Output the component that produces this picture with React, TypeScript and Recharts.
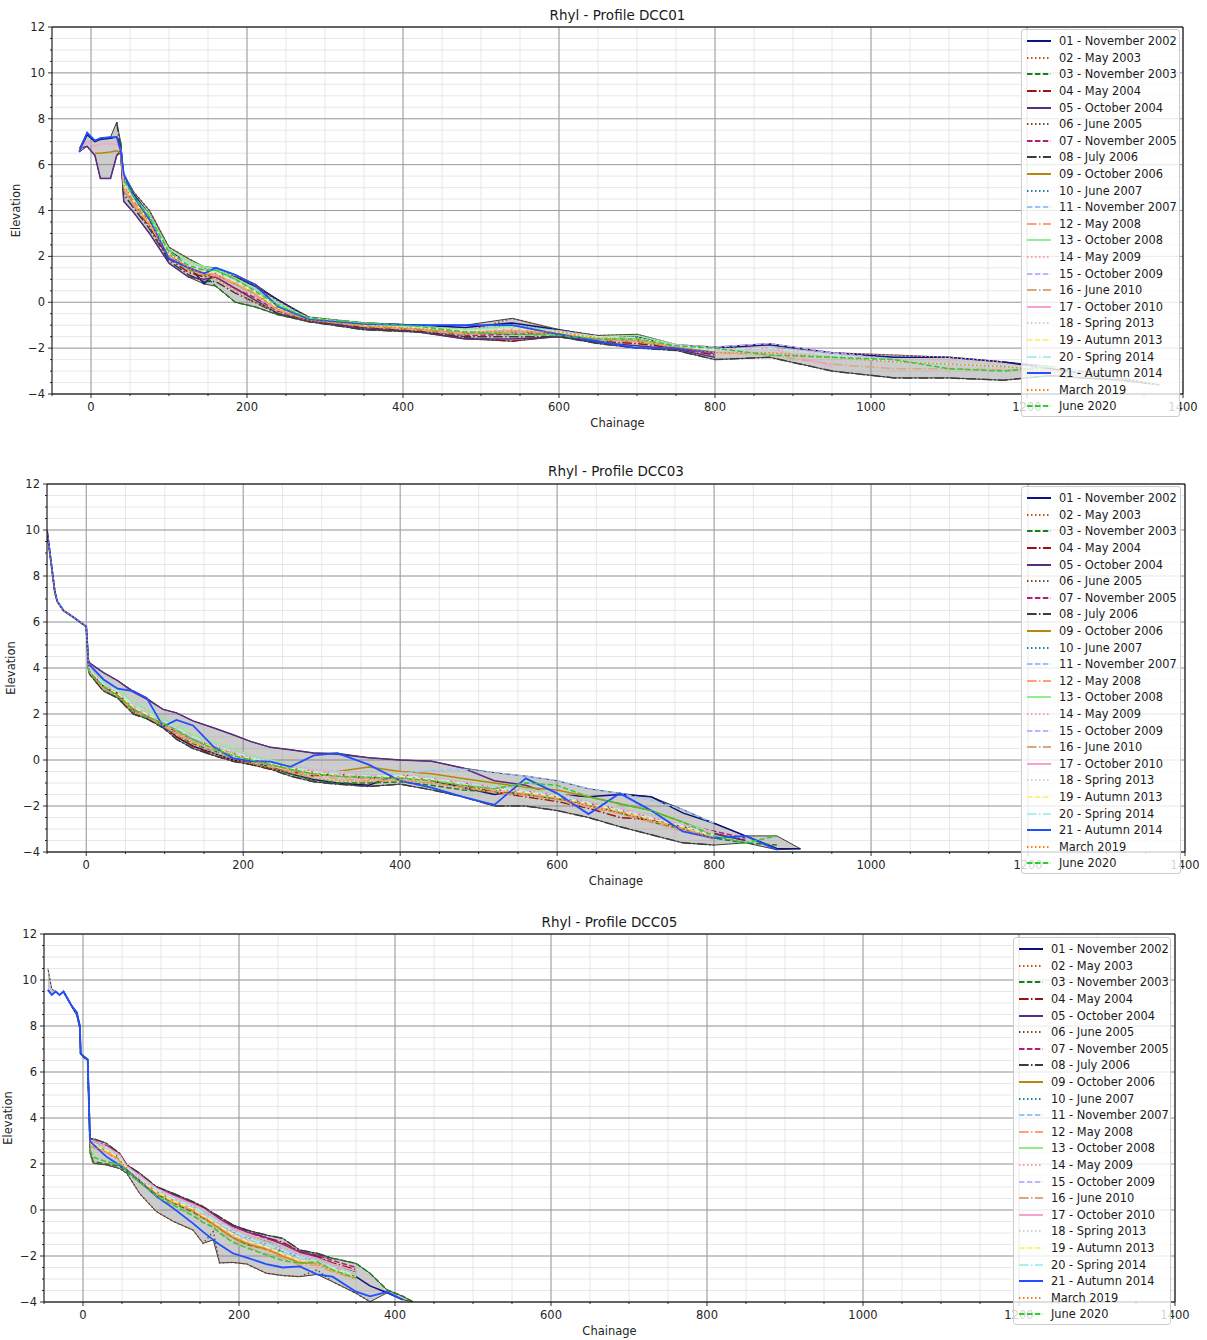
import React from 'react';
import {
  ComposedChart,
  Line,
  Area,
  XAxis,
  YAxis,
  CartesianGrid,
  ReferenceLine,
  Legend,
} from 'recharts';

const _ = null;
type Row = (number | null)[];

const surveys = [
  '01 - November 2002',
  '02 - May 2003',
  '03 - November 2003',
  '04 - May 2004',
  '05 - October 2004',
  '06 - June 2005',
  '07 - November 2005',
  '08 - July 2006',
  '09 - October 2006',
  '10 - June 2007',
  '11 - November 2007',
  '12 - May 2008',
  '13 - October 2008',
  '14 - May 2009',
  '15 - October 2009',
  '16 - June 2010',
  '17 - October 2010',
  '18 - Spring 2013',
  '19 - Autumn 2013',
  '20 - Spring 2014',
  '21 - Autumn 2014',
  'March 2019',
  'June 2020',
];

const surveyColours = [
  '#10107e', '#c8501e', '#1a7f1a', '#9b1010', '#5a2d82', '#7a4a2a', '#b0207a', '#3c3c3c',
  '#b8860b', '#207f9f', '#9ac4f8', '#ffa07a', '#90ee90', '#f4a0a0', '#c4b0ff', '#d8a883',
  '#f8a0d0', '#cfcfcf', '#fff27a', '#aeeeee', '#1f4fff', '#ff7f0e', '#2ecc2e',
];

const surveyStyles = [
  'solid', 'dotted', 'dashed', 'dashdot', 'solid', 'dotted', 'dashed', 'dashdot',
  'solid', 'dotted', 'dashed', 'dashdot', 'solid', 'dotted', 'dashed', 'dashdot',
  'solid', 'dotted', 'dashed', 'dashdot', 'solid', 'dotted', 'dashed',
];

const dashes: Record<string, string | undefined> = {
  solid: undefined,
  dotted: '1.5 2.5',
  dashed: '5.5 2.4',
  dashdot: '9.6 2.4 1.5 2.4',
};

const xMajor = [0, 200, 400, 600, 800, 1000, 1200, 1400];
const yMajor = [-4, -2, 0, 2, 4, 6, 8, 10, 12];
const xTicks = Array.from({ length: 30 }, (v, i) => -50 + i * 50);
const yTicks = Array.from({ length: 33 }, (v, i) => -4 + i * 0.5);

// ---- DCC01 ----
const dcc01Chainage = [
  -15, -5, 5, 12, 25, 33, 38, 42, 55, 75, 100, 125, 145, 160, 185, 210, 240, 280, 350, 420,
  480, 540, 600, 650, 700, 750, 800, 870, 950, 1030, 1100, 1170, 1230, 1270, 1320, 1370,
];
const dcc01Elevation: Row[] = [
  [6.6, 7.3, 7.0, 7.1, 7.15, 7.2, 6.9, 5.3, 4.7, 3.8, 2.3, 1.6, 0.8, 1.3, 1.1, 0.7, 0.1, -0.7, -0.9, -1.0, -1.1, -0.9, -1.2, -1.5, -1.5, -1.9, -2.0, -1.85, -2.2, -2.4, -2.4, -2.6, -2.9, -3.1, _, _],
  [_, _, _, _, _, _, _, 5.0, 4.3, 3.5, 2.1, 1.5, 1.3, 1.3, 0.9, 0.4, -0.3, -0.75, -1.0, -1.15, -1.3, -1.2, -1.3, -1.6, -1.7, -1.95, -2.2, _, _, _, _, _, _, _, _, _],
  [_, _, _, _, _, _, 7.0, 5.0, 4.3, 3.4, 2.0, 1.4, 1.2, 0.7, 0.0, -0.2, -0.55, -0.85, -1.1, -1.2, -1.35, -1.2, -1.35, -1.6, -1.7, -1.95, -2.2, _, _, _, _, _, _, _, _, _],
  [_, _, _, _, _, _, _, 4.9, 4.2, 3.3, 1.9, 1.3, 1.1, 1.2, 1.1, 0.8, -0.2, -0.8, -1.1, -1.25, -1.55, -1.7, -1.45, -1.7, -1.8, -2.0, -2.3, _, _, _, _, _, _, _, _, _],
  [6.7, 6.8, 6.4, 5.4, 5.4, 6.4, 6.6, 4.4, 3.9, 3.0, 1.7, 1.1, 1.0, 1.1, 0.6, 0.1, -0.5, -0.8, -1.15, -1.3, -1.6, -1.6, -1.5, -1.75, -1.9, -2.05, -2.4, _, _, _, _, _, _, _, _, _],
  [_, _, _, _, _, _, _, 5.4, 4.8, 4.0, 2.4, 1.9, 1.5, 1.5, 1.1, 0.7, 0.05, -0.65, -0.9, -1.05, -1.3, -0.7, -1.2, -1.45, -1.4, -1.85, -2.0, _, _, _, _, _, _, _, _, _],
  [_, _, _, _, _, _, _, 5.1, 4.4, 3.5, 2.1, 1.5, 1.2, 1.1, 0.6, 0.2, -0.4, -0.8, -1.05, -1.2, -1.45, -1.4, -1.35, -1.6, -1.65, -2.0, -2.25, _, _, _, _, _, _, _, _, _],
  [_, _, _, _, _, 7.85, 6.6, 4.7, 4.1, 3.2, 1.8, 1.2, 0.9, 0.9, 0.4, 0.0, -0.5, -0.85, -1.2, -1.3, -1.5, -1.5, -1.5, -1.8, -2.0, -2.1, -2.5, -2.4, -3.0, -3.3, -3.3, -3.4, -3.2, -3.3, -3.4, -3.6],
  [_, _, 6.5, 6.5, 6.55, 6.6, 6.5, 5.0, 4.4, 3.4, 2.0, 1.4, 1.2, 1.2, 0.8, 0.4, -0.3, -0.75, -1.05, -1.2, -1.4, -1.3, -1.35, -1.6, -1.7, -1.95, -2.2, _, _, _, _, _, _, _, _, _],
  [_, _, _, _, _, _, _, 5.3, 4.6, 3.7, 2.2, 1.6, 1.4, 1.4, 1.0, 0.6, -0.1, -0.7, -0.95, -1.1, -1.25, -1.0, -1.25, -1.5, -1.5, -1.9, -2.1, _, _, _, _, _, _, _, _, _],
  [_, _, _, _, _, _, _, 5.2, 4.5, 3.6, 2.1, 1.6, 1.4, 1.3, 0.9, 0.5, -0.2, -0.7, -1.0, -1.1, -1.3, -1.2, -1.3, -1.55, -1.6, -1.9, -2.15, _, _, _, _, _, _, _, _, _],
  [_, _, _, _, _, _, _, 5.0, 4.3, 3.4, 2.0, 1.5, 1.3, 1.2, 0.8, 0.4, -0.3, -0.75, -1.0, -1.15, -1.35, -1.25, -1.3, -1.6, -1.65, -1.95, -2.2, _, _, _, _, _, _, _, _, _],
  [_, _, _, _, _, _, _, 5.3, 4.6, 3.8, 2.3, 1.8, 1.55, 1.45, 1.05, 0.6, -0.05, -0.7, -0.9, -1.05, -1.2, -1.05, -1.25, -1.5, -1.45, -1.85, -2.05, _, _, _, _, _, _, _, _, _],
  [_, _, _, _, _, _, _, 5.1, 4.4, 3.5, 2.1, 1.5, 1.3, 1.25, 0.85, 0.45, -0.2, -0.7, -0.95, -1.1, -1.25, -1.15, -1.3, -1.55, -1.55, -1.9, -2.0, -2.0, -2.2, -2.3, -2.4, -2.6, _, _, _, _],
  [_, _, _, _, _, _, _, 5.2, 4.5, 3.6, 2.2, 1.6, 1.4, 1.35, 0.95, 0.55, -0.15, -0.7, -0.95, -1.1, -1.3, -1.2, -1.25, -1.5, -1.6, -1.85, -1.95, -1.8, -2.2, -2.5, _, _, _, _, _, _],
  [_, _, _, _, _, _, _, 4.9, 4.2, 3.4, 2.0, 1.4, 1.2, 1.15, 0.75, 0.3, -0.35, -0.75, -1.05, -1.2, -1.4, -1.3, -1.35, -1.65, -1.7, -1.95, -2.2, -2.3, -2.7, -2.9, -2.9, -2.95, -3.0, _, _, _],
  [6.65, 7.0, 6.8, 6.9, 6.9, 6.9, 6.7, 5.1, 4.5, 3.6, 2.2, 1.6, 1.35, 1.3, 0.9, 0.5, -0.2, -0.7, -0.95, -1.1, -1.25, -1.15, -1.3, -1.55, -1.6, -1.9, -2.05, -2.0, -2.8, _, _, _, _, _, _, _],
  [_, _, _, _, _, _, _, 5.2, 4.5, 3.6, 2.2, 1.6, 1.4, 1.3, 0.9, 0.5, -0.2, -0.7, -0.95, -1.1, -1.3, -1.25, -1.3, -1.55, -1.6, -1.9, -2.1, -2.1, -2.4, -2.6, -2.7, -2.8, -2.95, -3.1, -3.3, -3.6],
  [_, _, _, _, _, _, _, 5.1, 4.4, 3.5, 2.1, 1.6, 1.35, 1.3, 0.9, 0.45, -0.25, -0.7, -1.0, -1.1, -1.25, -1.15, -1.3, -1.55, -1.6, -1.9, -2.1, _, _, _, _, _, _, _, _, _],
  [_, _, _, _, _, _, _, 5.2, 4.5, 3.7, 2.2, 1.65, 1.4, 1.35, 0.95, 0.5, -0.15, -0.7, -0.95, -1.1, -1.25, -1.1, -1.3, -1.5, -1.55, -1.9, -2.05, -2.0, -2.3, -2.6, -2.7, -2.8, -2.8, -3.0, _, _],
  [6.55, 7.4, 7.05, 7.15, 7.2, 7.2, 6.6, 5.6, 4.6, 3.6, 1.9, 1.5, 1.25, 1.5, 1.2, 0.75, -0.2, -0.75, -0.95, -1.0, -1.0, -1.0, -1.4, -1.7, -2.0, -2.0, -2.2, _, _, _, _, _, _, _, _, _],
  [_, _, _, _, _, _, _, 5.1, 4.4, 3.5, 2.1, 1.5, 1.2, 1.0, 0.5, 0.0, -0.4, -0.8, -1.0, -1.15, -1.3, -1.25, -1.3, -1.55, -1.6, -1.95, -2.2, -2.2, -2.4, -2.6, -2.7, -2.8, -3.0, -3.1, _, _],
  [_, _, _, _, _, _, _, 5.3, 4.6, 3.7, 2.2, 1.6, 1.4, 1.4, 1.0, 0.5, -0.15, -0.7, -0.9, -1.05, -1.3, -1.4, -1.45, -1.6, -1.6, -1.9, -2.0, -2.3, -2.4, -2.5, -2.9, -3.0, -2.8, _, _, _],
];

// ---- DCC03 ----
const dcc03Chainage = [
  -50, -40, -37, -29, -16, 0, 3, 5, 22, 40, 60, 77, 98, 115, 136, 162, 187, 210, 235, 260,
  290, 320, 360, 400, 440, 480, 520, 560, 600, 640, 680, 720, 760, 800, 840, 880, 910,
];
const dcc03Elevation: Row[] = [
  [10.0, 7.3, 6.9, 6.5, 6.2, 5.8, 4.2, 3.9, 3.2, 2.8, 2.1, 1.9, 1.5, 1.0, 0.6, 0.3, 0.0, -0.1, -0.3, -0.6, -0.85, -1.0, -1.1, -0.6, -0.9, -1.2, -1.5, -1.3, -1.5, -1.6, -1.5, -1.6, -2.3, -2.75, -3.3, -3.85, -3.86],
  [_, _, _, _, _, _, 4.0, 3.8, 3.2, 2.9, 2.3, 2.0, 1.6, 1.3, 0.9, 0.6, 0.3, 0.1, -0.1, -0.3, -0.55, -0.7, -0.8, -0.75, -0.9, -1.1, -1.3, -1.35, -1.6, -1.9, -2.2, -2.5, -2.9, -3.3, _, _, _],
  [10.0, 7.3, 6.9, 6.5, 6.2, 5.8, 3.8, 3.7, 3.0, 2.7, 2.0, 1.8, 1.4, 1.1, 0.7, 0.4, 0.1, -0.1, -0.35, -0.6, -0.9, -1.0, -1.0, -0.95, -1.1, -1.3, -1.4, -1.5, -1.7, -1.9, -2.3, -2.7, -3.0, -3.4, -3.6, -3.7, _],
  [_, _, _, _, _, _, 4.1, 3.9, 3.3, 2.9, 2.2, 1.9, 1.5, 1.0, 0.6, 0.2, -0.05, -0.2, -0.4, -0.5, -0.7, -0.6, -0.8, -0.6, -0.9, -1.1, -1.4, -1.6, -1.8, -2.1, -2.5, -2.6, -2.9, -3.2, -3.5, _, _],
  [_, _, _, _, _, _, 4.3, 4.2, 3.8, 3.45, 2.95, 2.65, 2.2, 2.05, 1.7, 1.4, 1.1, 0.8, 0.55, 0.45, 0.3, 0.25, 0.1, 0.0, -0.05, -0.35, -0.9, -1.1, -1.6, -1.9, -2.1, -2.4, -2.8, -3.2, -3.5, _, _],
  [_, _, _, _, _, _, 4.0, 3.8, 3.1, 2.8, 2.1, 1.9, 1.4, 1.2, 0.8, 0.5, 0.2, 0.0, -0.2, -0.4, -0.6, -0.7, -0.8, -0.8, -0.7, -1.0, -1.3, -1.4, -1.6, -2.0, -2.3, -2.6, -3.0, -3.4, _, _, _],
  [_, _, _, _, _, _, 3.9, 3.8, 3.1, 2.8, 2.2, 1.9, 1.6, 1.2, 0.9, 0.5, 0.3, 0.1, -0.1, -0.3, -0.5, -0.6, -0.7, -0.7, -0.8, -1.0, -1.2, -1.3, -1.5, -1.8, -2.2, -2.5, -2.8, -3.1, -3.4, _, _],
  [_, _, _, _, _, _, 4.0, 3.7, 3.0, 2.7, 2.0, 1.8, 1.4, 0.9, 0.5, 0.2, -0.05, -0.2, -0.4, -0.7, -0.95, -1.05, -1.15, -1.05, -1.3, -1.6, -2.0, -2.0, -2.2, -2.5, -2.9, -3.25, -3.6, -3.7, _, _, _],
  [_, _, _, _, _, _, 4.1, 3.9, 3.3, 3.0, 2.4, 2.1, 1.7, 1.4, 1.0, 0.6, 0.3, 0.0, -0.2, -0.4, -0.6, -0.5, -0.3, -0.5, -0.6, -0.8, -1.0, -1.2, -1.3, -1.6, -1.9, -2.2, -2.7, -3.2, _, _, _],
  [_, _, _, _, _, _, 4.0, 3.9, 3.2, 2.9, 2.3, 2.0, 1.6, 1.3, 0.9, 0.6, 0.3, 0.05, -0.15, -0.35, -0.55, -0.65, -0.75, -0.7, -0.85, -1.05, -1.25, -1.4, -1.6, -1.9, -2.2, -2.6, -2.9, -3.3, _, _, _],
  [_, _, _, _, _, _, 4.1, 4.0, 3.3, 3.0, 2.4, 2.1, 1.7, 1.4, 1.0, 0.7, 0.4, 0.15, -0.05, -0.25, -0.45, -0.55, -0.65, -0.6, -0.45, -0.4, -0.55, -0.7, -0.9, -1.25, -1.45, -1.75, -2.15, -2.75, _, _, _],
  [_, _, _, _, _, _, 4.0, 3.8, 3.1, 2.8, 2.2, 1.9, 1.5, 1.2, 0.8, 0.5, 0.2, 0.0, -0.2, -0.4, -0.6, -0.7, -0.8, -0.75, -0.9, -1.1, -1.3, -1.45, -1.65, -1.95, -2.25, -2.6, -3.0, -3.35, _, _, _],
  [_, _, _, _, _, _, 4.2, 4.0, 3.4, 3.1, 2.5, 2.2, 1.8, 1.5, 1.1, 0.8, 0.5, 0.2, 0.0, -0.2, -0.4, -0.5, -0.6, -0.55, -0.7, -0.9, -1.1, -1.25, -1.45, -1.75, -2.05, -2.4, -2.75, -3.15, _, _, _],
  [_, _, _, _, _, _, 4.0, 3.9, 3.2, 2.9, 2.3, 2.0, 1.6, 1.3, 0.95, 0.6, 0.3, 0.1, -0.1, -0.3, -0.5, -0.6, -0.7, -0.65, -0.8, -1.0, -1.2, -1.35, -1.55, -1.85, -2.15, -2.5, -2.85, -3.25, _, _, _],
  [_, _, _, _, _, _, 4.1, 3.9, 3.3, 3.0, 2.3, 2.0, 1.7, 1.35, 1.0, 0.65, 0.35, 0.1, -0.05, -0.25, -0.4, -0.5, -0.65, -0.7, -0.85, -1.05, -1.25, -1.4, -1.5, -1.8, -2.1, -2.45, -2.8, -3.2, _, _, _],
  [_, _, _, _, _, _, 3.9, 3.8, 3.1, 2.8, 2.1, 1.9, 1.5, 1.1, 0.8, 0.4, 0.1, -0.1, -0.3, -0.5, -0.7, -0.8, -0.9, -0.85, -1.0, -1.2, -1.4, -1.55, -1.75, -2.05, -2.35, -2.7, -3.1, -3.45, _, _, _],
  [_, _, _, _, _, _, 4.1, 4.0, 3.3, 3.0, 2.4, 2.1, 1.7, 1.4, 1.0, 0.7, 0.4, 0.15, -0.05, -0.25, -0.45, -0.55, -0.65, -0.6, -0.75, -0.95, -1.15, -1.3, -1.5, -1.8, -2.1, -2.45, -2.8, -3.2, _, _, _],
  [10.0, 7.4, 6.9, 6.5, 6.2, 5.8, 4.1, 3.9, 3.3, 3.0, 2.4, 2.1, 1.7, 1.4, 1.0, 0.7, 0.4, 0.15, -0.05, -0.25, -0.4, -0.5, -0.6, -0.55, -0.7, -0.9, -1.1, -1.3, -1.45, -1.75, -2.05, -2.4, -2.75, -3.15, _, _, _],
  [_, _, _, _, _, _, 4.0, 3.9, 3.2, 2.9, 2.3, 2.0, 1.6, 1.3, 0.9, 0.55, 0.25, 0.05, -0.15, -0.35, -0.55, -0.65, -0.75, -0.7, -0.85, -1.05, -1.25, -1.4, -1.6, -1.9, -2.2, -2.55, -2.9, -3.3, _, _, _],
  [_, _, _, _, _, _, 4.1, 3.9, 3.3, 3.0, 2.4, 2.1, 1.7, 1.4, 1.0, 0.65, 0.35, 0.1, -0.1, -0.3, -0.5, -0.6, -0.7, -0.65, -0.8, -1.0, -1.2, -1.35, -1.55, -1.85, -2.15, -2.5, -2.85, -3.25, _, _, _],
  [10.0, 7.3, 6.9, 6.5, 6.2, 5.8, 4.1, 4.1, 3.5, 3.1, 3.0, 2.7, 1.45, 1.74, 1.5, 0.58, 0.07, -0.05, -0.07, -0.3, 0.2, 0.3, -0.2, -0.9, -1.2, -1.6, -1.95, -0.8, -1.45, -2.35, -1.45, -2.2, -3.1, -3.4, -3.3, -3.9, _],
  [10.0, 7.3, 6.9, 6.5, 6.2, 5.8, 4.0, 3.8, 3.1, 2.8, 2.1, 1.9, 1.5, 1.1, 0.7, 0.3, 0.0, -0.15, -0.35, -0.55, -0.8, -0.9, -0.95, -0.9, -1.0, -1.2, -1.4, -1.5, -1.7, -2.0, -2.3, -2.7, -3.0, -3.4, _, _, _],
  [_, _, _, _, _, _, 4.0, 3.8, 3.2, 2.8, 2.2, 1.9, 1.6, 1.3, 0.9, 0.5, 0.2, 0.0, -0.2, -0.4, -0.6, -0.7, -0.75, -0.8, -0.9, -1.1, -1.25, -1.0, -1.1, -1.6, -1.9, -2.2, -2.7, -3.3, -3.6, -3.3, _],
];

// ---- DCC05 ----
const dcc05Chainage = [
  -45, -40, -35, -30, -25, -15, -8, -4, -3, 2, 6, 9, 13, 30, 47, 56, 73, 94, 116, 141,
  154, 167, 175, 192, 210, 235, 256, 278, 300, 320, 350, 368, 390, 410, 423,
];
const dcc05Elevation: Row[] = [
  [_, _, _, _, 9.5, 8.9, 8.5, 8.0, 6.8, 6.65, 6.55, 3.1, 3.0, 2.7, 2.3, 1.9, 1.5, 0.95, 0.6, 0.2, 0.0, -0.3, -0.45, -0.8, -1.1, -1.4, -1.6, -1.9, -2.1, -2.4, -2.9, -3.3, -3.6, -3.9, _],
  [_, _, _, _, 9.5, 8.9, 8.55, 8.0, 6.8, 6.65, 6.55, 3.0, 2.9, 2.7, 2.3, 1.9, 1.5, 0.9, 0.55, 0.2, 0.0, -0.25, -0.45, -0.85, -1.15, -1.35, -1.55, -1.95, -2.2, -2.5, -2.85, _, _, _, _],
  [_, _, _, _, 9.5, 8.9, 8.55, 8.0, 6.8, 6.65, 6.55, 2.6, 2.1, 2.0, 1.9, 1.65, 1.2, 0.7, 0.3, -0.1, -0.35, -0.6, -0.8, -1.2, -1.5, -1.7, -1.8, -1.9, -1.95, -2.1, -2.32, -2.75, -3.48, -3.75, -3.99],
  [_, _, _, _, _, _, _, _, _, _, _, 3.1, 3.0, 2.8, 2.4, 1.95, 1.55, 1.0, 0.7, 0.3, 0.1, -0.15, -0.3, -0.65, -0.9, -1.2, -1.4, -1.8, -2.0, -2.3, -2.6, _, _, _, _],
  [_, _, _, _, _, _, _, _, _, _, _, 3.0, 2.95, 2.75, 2.4, 1.9, 1.5, 0.95, 0.65, 0.3, 0.05, -0.2, -0.4, -0.7, -0.95, -1.2, -1.5, -1.85, -2.05, -2.35, -2.7, _, _, _, _],
  [_, _, _, _, _, _, _, _, _, _, _, 2.5, 2.03, 1.96, 1.8, 1.6, 0.7, -0.07, -0.5, -0.87, -1.45, -0.94, -2.3, -2.28, -2.35, -2.75, -2.85, -2.9, -2.6, -3.12, -3.62, -3.99, _, _, _],
  [_, _, _, _, _, _, _, _, _, _, _, 3.0, 2.95, 2.8, 2.45, 1.95, 1.55, 1.0, 0.7, 0.3, 0.1, -0.15, -0.35, -0.7, -0.95, -1.25, -1.45, -1.8, -1.95, -2.2, -2.5, _, _, _, _],
  [_, _, _, _, 9.5, 8.9, 8.5, 7.9, 6.8, 6.6, 6.5, 3.1, 3.1, 2.9, 2.46, 1.96, 1.6, 1.01, 0.72, 0.36, 0.15, -0.14, -0.3, -0.65, -0.87, -1.09, -1.23, -1.74, -1.88, -2.1, _, _, _, _, _],
  [_, _, _, _, _, _, _, _, _, _, _, 2.9, 2.8, 2.6, 2.2, 1.8, 1.3, 0.8, 0.4, 0.0, -0.3, -0.6, -0.8, -1.2, -1.45, -1.7, -2.0, -2.3, -2.3, -2.5, -2.85, _, _, _, _],
  [_, _, _, _, _, _, _, _, _, _, _, 3.0, 2.9, 2.7, 2.3, 1.85, 1.4, 0.85, 0.5, 0.15, -0.1, -0.4, -0.55, -0.95, -1.2, -1.5, -1.75, -2.05, -2.2, -2.4, -2.75, _, _, _, _],
  [_, _, _, _, _, _, _, _, _, _, _, 2.95, 2.9, 2.6, 2.25, 1.85, 1.35, 0.8, 0.45, 0.1, -0.15, -0.45, -0.6, -1.0, -1.3, -1.55, -1.85, -2.1, -2.3, -2.5, -2.9, _, _, _, _],
  [_, _, _, _, _, _, _, _, _, _, _, 2.9, 2.85, 2.55, 2.2, 1.8, 1.3, 0.75, 0.35, 0.0, -0.3, -0.55, -0.75, -1.1, -1.4, -1.65, -1.95, -2.25, -2.3, -2.6, -2.95, _, _, _, _],
  [_, _, _, _, _, _, _, _, _, _, _, 3.0, 2.9, 2.7, 2.35, 1.9, 1.45, 0.9, 0.55, 0.2, 0.0, -0.3, -0.5, -0.85, -1.1, -1.4, -1.6, -1.95, -2.15, -2.4, -2.75, _, _, _, _],
  [_, _, _, _, _, _, _, _, _, _, _, 2.95, 2.85, 2.65, 2.3, 1.85, 1.4, 0.85, 0.5, 0.15, -0.1, -0.4, -0.55, -0.9, -1.15, -1.45, -1.7, -2.0, -2.2, -2.45, -2.8, _, _, _, _],
  [_, _, _, _, _, _, _, _, _, _, _, 3.0, 2.9, 2.7, 2.3, 1.9, 1.45, 0.9, 0.5, 0.2, -0.05, -0.35, -0.5, -0.85, -1.15, -1.45, -1.65, -2.0, -2.2, -2.45, -2.8, _, _, _, _],
  [_, _, _, _, _, _, _, _, _, _, _, 2.8, 2.7, 2.5, 2.1, 1.7, 1.2, 0.6, 0.2, -0.2, -0.5, -0.7, -0.95, -1.35, -1.6, -1.9, -2.1, -2.4, -2.4, -2.7, -3.0, _, _, _, _],
  [_, _, _, _, _, _, _, _, _, _, _, 3.05, 3.0, 2.75, 2.4, 1.9, 1.5, 0.95, 0.6, 0.25, 0.05, -0.25, -0.45, -0.8, -1.05, -1.3, -1.55, -1.9, -2.1, -2.35, -2.65, _, _, _, _],
  [10.5, 9.6, 9.5, 9.35, 9.5, 8.9, 8.55, 8.0, 6.8, 6.65, 6.55, 3.0, 2.9, 2.65, 2.3, 1.85, 1.4, 0.85, 0.5, 0.15, -0.1, -0.4, -0.55, -0.9, -1.15, -1.45, -1.7, -2.0, -2.2, -2.45, -2.8, _, _, _, _],
  [_, _, _, _, _, _, _, _, _, _, _, 2.9, 2.8, 2.6, 2.25, 1.8, 1.3, 0.8, 0.4, 0.05, -0.25, -0.5, -0.7, -1.05, -1.35, -1.6, -1.9, -2.2, -2.25, -2.55, -2.9, _, _, _, _],
  [_, _, _, _, _, _, _, _, _, _, _, 3.0, 2.9, 2.7, 2.3, 1.85, 1.4, 0.9, 0.5, 0.15, -0.1, -0.4, -0.55, -0.9, -1.2, -1.5, -1.75, -2.05, -2.25, -2.5, -2.85, _, _, _, _],
  [9.57, 9.35, 9.5, 9.35, 9.5, 8.9, 8.6, 8.0, 6.8, 6.65, 6.55, 3.0, 2.85, 2.32, 1.95, 1.74, 1.25, 0.6, 0.07, -0.58, -0.95, -1.3, -1.5, -1.88, -2.07, -2.35, -2.5, -2.45, -2.8, -2.9, -3.55, -3.75, -3.56, -3.9, _],
  [_, _, _, _, _, _, _, _, _, _, _, 2.9, 2.75, 2.5, 2.2, 1.8, 1.25, 0.7, 0.3, -0.05, -0.35, -0.6, -0.85, -1.2, -1.5, -1.75, -2.0, -2.3, -2.35, -2.65, -3.0, _, _, _, _],
  [_, _, _, _, _, _, _, _, _, _, _, 2.6, 2.3, 2.1, 2.0, 1.7, 1.2, 0.6, 0.2, -0.25, -0.55, -0.75, -1.0, -1.4, -1.65, -1.95, -2.2, -2.3, -2.25, -2.6, -2.95, _, _, _, _],
];

const font = '"DejaVu Sans", sans-serif';

function seriesPoints(chainage: number[], values: Row) {
  return chainage
    .map((c, k) => ({ chainage: c, elevation: values[k] }))
    .filter((p) => p.elevation !== null);
}

// grey band between the lowest and highest survey at each chainage
function envelopePoints(chainage: number[], rows: Row[]) {
  const out: { chainage: number; range: [number, number] }[] = [];
  chainage.forEach((c, k) => {
    const vals = rows.map((r) => r[k]).filter((v) => v !== null) as number[];
    if (vals.length) out.push({ chainage: c, range: [Math.min(...vals), Math.max(...vals)] });
  });
  return out;
}

function XTick(props: any) {
  const { x, y, payload } = props;
  const v = payload.value;
  const major = v % 200 === 0;
  return (
    <g>
      <line x1={x} y1={y} x2={x} y2={y + (major ? 4 : 2)} stroke="#000" strokeWidth={0.8} />
      {major && (
        <text x={x} y={y + 17} textAnchor="middle" fontSize={11.5} fill="#262626" fontFamily={font}>
          {v}
        </text>
      )}
    </g>
  );
}

function YTick(props: any) {
  const { x, y, payload } = props;
  const v = payload.value;
  const major = v % 2 === 0;
  return (
    <g>
      <line x1={x} y1={y} x2={x - (major ? 4 : 2)} y2={y} stroke="#000" strokeWidth={0.8} />
      {major && (
        <text x={x - 7} y={y + 4} textAnchor="end" fontSize={11.5} fill="#262626" fontFamily={font}>
          {String(v).replace('-', '\u2212')}
        </text>
      )}
    </g>
  );
}

function SurveyLegend() {
  return (
    <div
      style={{
        background: 'rgba(255,255,255,0.8)',
        border: '1px solid #cccccc',
        borderRadius: 3,
        padding: '3px 4px 3px 5px',
        fontFamily: font,
        fontSize: 11.4,
        color: '#1a1a1a',
        boxSizing: 'border-box',
        width: '100%',
        height: '100%',
      }}
    >
      {surveys.map((name, i) => (
        <div key={name} style={{ display: 'flex', alignItems: 'center', height: 16.6, whiteSpace: 'nowrap' }}>
          <svg width={24} height={8} style={{ marginRight: 8, flex: 'none' }}>
            <line
              x1={0}
              y1={4}
              x2={24}
              y2={4}
              stroke={surveyColours[i]}
              strokeWidth={2}
              strokeDasharray={dashes[surveyStyles[i]]}
            />
          </svg>
          <span>{name}</span>
        </div>
      ))}
    </div>
  );
}

type PanelProps = {
  title: string;
  chainage: number[];
  rows: Row[];
  top: number;
  height: number;
  titleY: number;
  margin: { top: number; right: number; bottom: number; left: number };
  legendLeft: number;
  legendTop: number;
  legendWidth: number;
};

function ProfilePanel(p: PanelProps) {
  const envelope = envelopePoints(p.chainage, p.rows);
  const plotLeft = p.margin.left + 40;
  const plotRight = 1207 - p.margin.right;
  return (
    <div style={{ position: 'absolute', left: 0, top: p.top, width: 1207, height: p.height }}>
      <div
        style={{
          position: 'absolute',
          left: plotLeft,
          width: plotRight - plotLeft,
          top: p.titleY - 9,
          lineHeight: '18px',
          textAlign: 'center',
          fontFamily: font,
          fontSize: 13.5,
          color: '#1a1a1a',
        }}
      >
        {p.title}
      </div>
      <ComposedChart width={1207} height={p.height} margin={p.margin} style={{ fontFamily: font }}>
        <CartesianGrid stroke="#e2e2e2" strokeWidth={0.8} />
        <CartesianGrid stroke="#9c9c9c" strokeWidth={1} horizontalValues={yMajor} verticalValues={xMajor} />
        <XAxis
          type="number"
          dataKey="chainage"
          domain={[-50, 1400]}
          ticks={xTicks}
          interval={0}
          allowDataOverflow
          tick={(t: any) => <XTick {...t} />}
          tickLine={false}
          tickSize={0}
          tickMargin={0}
          axisLine={{ stroke: '#000', strokeWidth: 1 }}
          height={30}
          label={{ value: 'Chainage', position: 'insideBottom', offset: -3, fontSize: 11.5, fill: '#262626' }}
        />
        <YAxis
          type="number"
          domain={[-4, 12]}
          ticks={yTicks}
          interval={0}
          allowDataOverflow
          tick={(t: any) => <YTick {...t} />}
          tickLine={false}
          tickSize={0}
          tickMargin={0}
          axisLine={{ stroke: '#000', strokeWidth: 1 }}
          width={40}
          label={{
            value: 'Elevation',
            angle: -90,
            position: 'insideLeft',
            offset: 4,
            fontSize: 11.5,
            fill: '#262626',
            style: { textAnchor: 'middle' },
          }}
        />
        <Area
          data={envelope}
          dataKey="range"
          type="linear"
          stroke="#3a3a3a"
          strokeWidth={1}
          fill="#7f7f7f"
          fillOpacity={0.4}
          isAnimationActive={false}
        />
        {p.rows.map((row, i) => (
          <Line
            key={surveys[i]}
            data={seriesPoints(p.chainage, row)}
            dataKey="elevation"
            name={surveys[i]}
            type="linear"
            stroke={surveyColours[i]}
            strokeWidth={i === 20 ? 1.8 : 1.5}
            strokeDasharray={dashes[surveyStyles[i]]}
            dot={false}
            activeDot={false}
            isAnimationActive={false}
          />
        ))}
        <ReferenceLine y={12} stroke="#000" strokeWidth={1} />
        <ReferenceLine x={1400} stroke="#000" strokeWidth={1} />
        <Legend
          layout="vertical"
          align="center"
          verticalAlign="middle"
          wrapperStyle={{
            left: p.legendLeft,
            top: p.legendTop,
            width: p.legendWidth,
            height: 388,
          }}
          content={() => <SurveyLegend />}
        />
      </ComposedChart>
    </div>
  );
}

export default function App() {
  return (
    <div style={{ position: 'absolute', left: 0, top: 0, width: 1207, height: 1340, background: '#fff' }}>
      <ProfilePanel
        title="Rhyl - Profile DCC01"
        chainage={dcc01Chainage}
        rows={dcc01Elevation}
        top={0}
        height={440}
        titleY={15}
        margin={{ top: 27, right: 24, bottom: 16, left: 12 }}
        legendLeft={1021}
        legendTop={29}
        legendWidth={159}
      />
      <ProfilePanel
        title="Rhyl - Profile DCC03"
        chainage={dcc03Chainage}
        rows={dcc03Elevation}
        top={455}
        height={440}
        titleY={16}
        margin={{ top: 29, right: 22, bottom: 13, left: 7 }}
        legendLeft={1021}
        legendTop={31}
        legendWidth={160}
      />
      <ProfilePanel
        title="Rhyl - Profile DCC05"
        chainage={dcc05Chainage}
        rows={dcc05Elevation}
        top={905}
        height={435}
        titleY={17}
        margin={{ top: 29, right: 32, bottom: 8, left: 4 }}
        legendLeft={1013}
        legendTop={32}
        legendWidth={158}
      />
    </div>
  );
}
